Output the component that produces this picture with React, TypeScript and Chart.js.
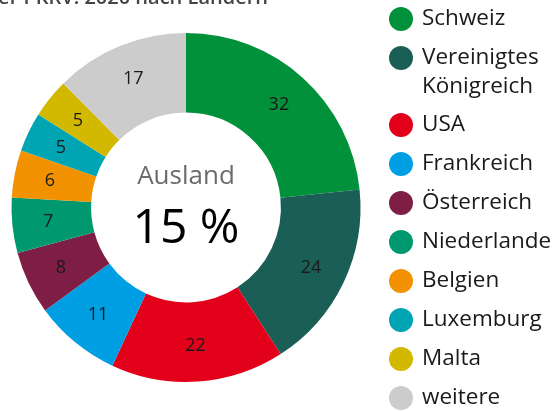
import React, { useEffect, useRef } from "react";
import { Chart, registerables } from "chart.js";

Chart.register(...registerables);

const titleText = "Leistungsempfänger der PKRV: 2020 nach Ländern";
const centerLabel = "Ausland";
const centerValue = "15 %";
const countries = [
  "Schweiz",
  "Vereinigtes Königreich",
  "USA",
  "Frankreich",
  "Österreich",
  "Niederlande",
  "Belgien",
  "Luxemburg",
  "Malta",
  "weitere",
];
const legendLines = [
  ["Schweiz"],
  ["Vereinigtes", "Königreich"],
  ["USA"],
  ["Frankreich"],
  ["Österreich"],
  ["Niederlande"],
  ["Belgien"],
  ["Luxemburg"],
  ["Malta"],
  ["weitere"],
];
const values = [32, 24, 22, 11, 8, 7, 6, 5, 5, 17];
const colors = [
  "#00913a",
  "#1b5e55",
  "#e2001a",
  "#009fe3",
  "#7f1e45",
  "#00986e",
  "#f39200",
  "#00a5b4",
  "#d2b900",
  "#cccccc",
];

const FONT = "'Open Sans', 'Noto Sans', sans-serif";

export default function App() {
  const ref = useRef<HTMLCanvasElement | null>(null);

  useEffect(() => {
    document.body.style.margin = "0";
    if (!ref.current) return;

    const labelPlugin = {
      id: "sliceLabels",
      afterDatasetsDraw(chart: any) {
        const ctx = chart.ctx;
        const meta = chart.getDatasetMeta(0);
        ctx.save();
        ctx.font = `18px ${FONT}`;
        ctx.fillStyle = "#1a1a1a";
        ctx.textAlign = "center";
        ctx.textBaseline = "middle";
        meta.data.forEach((arc: any, i: number) => {
          const p = arc.getCenterPoint();
          const cx = arc.x as number;
          const cy = arc.y as number;
          const dx = p.x - cx;
          const dy = p.y - cy;
          const d = Math.sqrt(dx * dx + dy * dy) || 1;
          const r = d + 4;
          ctx.fillText(String(values[i]), cx + (dx / d) * r, cy + (dy / d) * r);
        });
        const a: any = meta.data[0];
        ctx.fillStyle = "#6b6b6b";
        ctx.font = `26px ${FONT}`;
        ctx.fillText(centerLabel, a.x, a.y - 31);
        ctx.fillStyle = "#000000";
        ctx.font = `48px ${FONT}`;
        ctx.fillText(centerValue, a.x, a.y + 22);
        ctx.restore();
      },
    };

    const chart = new Chart(ref.current, {
      type: "doughnut",
      data: {
        labels: countries,
        datasets: [
          {
            data: values,
            backgroundColor: colors,
            borderWidth: 0,
          },
        ],
      },
      options: {
        responsive: false,
        animation: false,
        cutout: "54.4%",
        layout: { padding: { left: 11.5, right: 199.5, top: 33, bottom: 29 } },
        plugins: {
          legend: { display: false },
          tooltip: { enabled: false },
          title: { display: false },
        },
      },
      plugins: [labelPlugin],
    });
    return () => chart.destroy();
  }, []);

  let y = 0;
  const rows = legendLines.map((lines, i) => {
    const top = y;
    y += 39 + (lines.length - 1) * 28;
    return { lines, top, color: colors[i] };
  });

  return (
    <div style={{ position: "relative", width: 560, height: 411, overflow: "hidden", background: "#fff", fontFamily: FONT }}>
      <canvas ref={ref} width={560} height={411} style={{ position: "absolute", left: 0, top: 0, width: 560, height: 411 }} />
      <div
        style={{
          position: "absolute",
          right: 560 - 268,
          top: -13,
          whiteSpace: "nowrap",
          fontSize: 20,
          lineHeight: "20px",
          fontWeight: 600,
          color: "#444",
        }}
      >
        {titleText}
      </div>
      {rows.map((r, i) => (
        <div key={i} style={{ position: "absolute", left: 389, top: r.top + 3 }}>
          <div
            style={{
              position: "absolute",
              left: 0,
              top: 4,
              width: 24,
              height: 24,
              borderRadius: 12,
              background: r.color,
            }}
          />
          <div
            style={{
              position: "absolute",
              left: 33,
              top: -1,
              fontSize: 22.5,
              lineHeight: "29px",
              color: "#1a1a1a",
              whiteSpace: "nowrap",
            }}
          >
            {r.lines.map((l, j) => (
              <div key={j}>{l}</div>
            ))}
          </div>
        </div>
      ))}
    </div>
  );
}
